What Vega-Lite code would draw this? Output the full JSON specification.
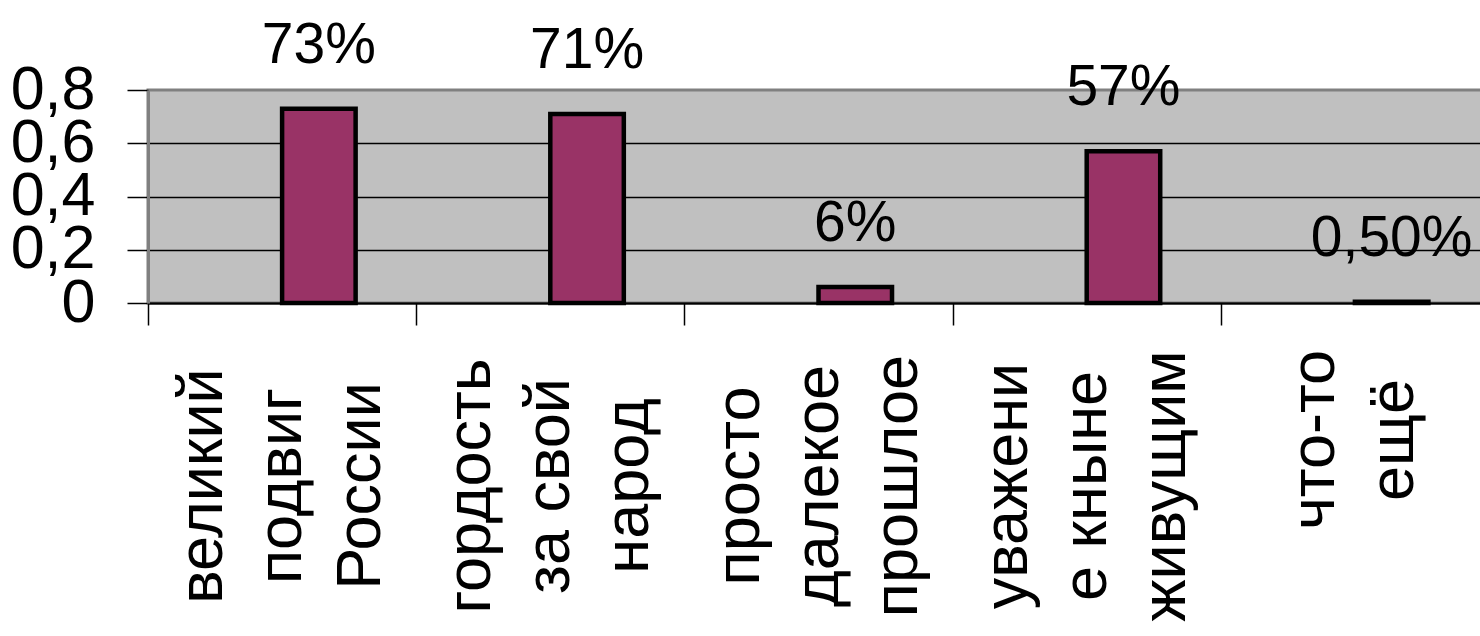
{
  "$schema": "https://vega.github.io/schema/vega-lite/v6.json",
  "autosize": "none",
  "width": 1341,
  "height": 213,
  "padding": {"left": 148, "top": 90, "right": 0, "bottom": 333},
  "background": "white",
  "config": {
    "font": "Liberation Sans",
    "view": {"fill": "#C0C0C0", "stroke": "#808080", "strokeWidth": 3}
  },
  "data": {
    "values": [
      {"category": "великий\nподвиг\nРоссии", "series": "Ряд2", "value": 0.73, "label": "73%"},
      {"category": "гордость\nза свой\nнарод", "series": "Ряд2", "value": 0.71, "label": "71%"},
      {"category": "просто\nдалекое\nпрошлое", "series": "Ряд2", "value": 0.06, "label": "6%"},
      {"category": "уважени\nе кныне\nживущим", "series": "Ряд2", "value": 0.57, "label": "57%"},
      {"category": "что-то\nещё", "series": "Ряд2", "value": 0.005, "label": "0,50%"}
    ]
  },
  "encoding": {
    "x": {
      "field": "category",
      "type": "nominal",
      "sort": null,
      "scale": {"paddingInner": 0, "paddingOuter": 0},
      "axis": {
        "title": null,
        "labels": false,
        "tickBand": "extent",
        "tickSize": 22,
        "tickColor": "#000000",
        "tickWidth": 1.5,
        "domain": true,
        "domainColor": "#000000",
        "domainWidth": 2,
        "grid": false
      }
    },
    "y": {
      "field": "value",
      "type": "quantitative",
      "scale": {"domain": [0, 0.8], "nice": false, "zero": true},
      "axis": {
        "title": null,
        "values": [0, 0.2, 0.4, 0.6, 0.8],
        "labelExpr": "datum.value == 0 ? '0' : replace(format(datum.value, '.1f'), '.', ',')",
        "labelFont": "Liberation Sans",
        "labelFontSize": 61,
        "labelColor": "#000000",
        "labelPadding": 32,
        "labelOverlap": false,
        "labelFlush": false,
        "tickSize": 21,
        "tickColor": "#000000",
        "tickWidth": 1.5,
        "domain": true,
        "domainColor": "#808080",
        "domainWidth": 3,
        "grid": true,
        "gridColor": "#000000",
        "gridWidth": 1.5,
        "gridOpacity": {"condition": {"test": "datum.value > 0.79", "value": 0}, "value": 1}
      }
    }
  },
  "layer": [
    {
      "mark": {"type": "bar", "fill": "#993366", "stroke": "#000000", "strokeWidth": 4.5, "fillOpacity": 1},
      "encoding": {
        "xOffset": {
          "field": "series",
          "type": "nominal",
          "scale": {"domain": ["Ряд1", "Ряд2"], "paddingInner": 0, "paddingOuter": 0.824}
        }
      }
    },
    {
      "mark": {"type": "text", "baseline": "alphabetic", "align": "center", "dy": -46, "font": "Liberation Sans", "fontSize": 57, "fill": "#000000"},
      "encoding": {
        "xOffset": {"field": "series", "type": "nominal"},
        "text": {"field": "label"}
      }
    },
    {
      "transform": [{"filter": "length(datum.category) >= 12"}],
      "mark": {"type": "text", "angle": -90, "align": "center", "baseline": "middle", "lineBreak": "\n", "lineHeight": 79, "font": "Liberation Sans", "fontSize": 63, "fill": "#000000", "dx": -183, "dy": -79},
      "encoding": {
        "y": {"datum": 0, "type": "quantitative"},
        "text": {"field": "category"}
      }
    },
    {
      "transform": [{"filter": "length(datum.category) < 12"}],
      "mark": {"type": "text", "angle": -90, "align": "center", "baseline": "middle", "lineBreak": "\n", "lineHeight": 79, "font": "Liberation Sans", "fontSize": 63, "fill": "#000000", "dx": -137, "dy": -39.5},
      "encoding": {
        "y": {"datum": 0, "type": "quantitative"},
        "text": {"field": "category"}
      }
    }
  ]
}
